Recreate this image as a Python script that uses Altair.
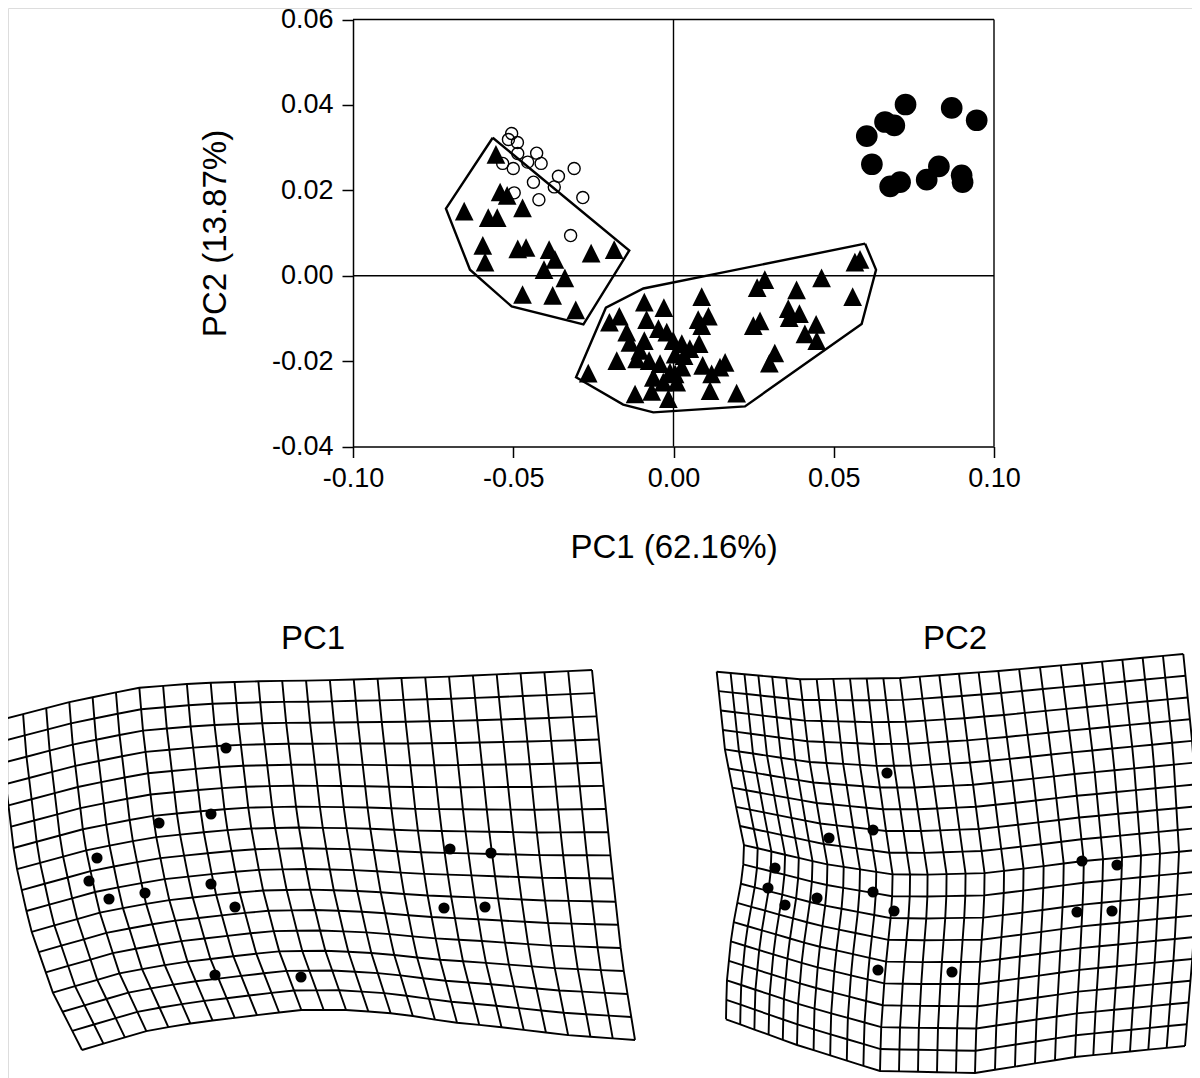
import altair as alt
import pandas as pd
import numpy as np

# ---------------- PCA scatter data ----------------
tri_x = [-0.0554, -0.0541, -0.0519, -0.0653, -0.0578, -0.0550, -0.0471, -0.0595, -0.0588, -0.0486,
         -0.0460, -0.0388, -0.0370, -0.0404, -0.0339, -0.0257, -0.0185, -0.0471, -0.0377, -0.0305,
         0.0285, 0.0261, 0.0462, 0.0582, 0.0566, 0.0559, 0.0384, 0.0358, 0.0393, 0.0361,
         0.0270, 0.0249, 0.0445, 0.0410, 0.0447, 0.0316, 0.0299,
         0.0088, 0.0109, 0.0077, 0.0088, 0.0080, 0.0051, 0.0091, 0.0161, 0.0145, 0.0119, 0.0114, 0.0197,
         -0.0091, -0.0030, -0.0200, -0.0169, -0.0084, -0.0146, -0.0136, -0.0091, -0.0047, -0.0021,
         -0.0001, 0.0026, -0.0105, -0.0177, -0.0115, -0.0076, -0.0042, 0.0005, 0.0033, 0.0026,
         -0.0011, -0.0063, 0.0010, -0.0032, -0.0068, -0.0120, -0.0016, -0.0266, 0.0005]
tri_y = [0.0284, 0.0196, 0.0188, 0.0151, 0.0136, 0.0136, 0.0159, 0.0071, 0.0032, 0.0063,
         0.0066, 0.0061, 0.0038, 0.0014, -0.0005, 0.0053, 0.0061, -0.0044, -0.0046, -0.0080,
         -0.0009, -0.0028, -0.0005, 0.0038, 0.0032, -0.0049, -0.0033, -0.0077, -0.0089, -0.0098,
         -0.0106, -0.0117, -0.0114, -0.0136, -0.0152, -0.0181, -0.0205,
         -0.0049, -0.0095, -0.0103, -0.0117, -0.0159, -0.0171, -0.0210, -0.0203, -0.0214, -0.0230, -0.0269, -0.0275,
         -0.0062, -0.0075, -0.0109, -0.0095, -0.0103, -0.0132, -0.0156, -0.0152, -0.0124, -0.0132,
         -0.0152, -0.0159, -0.0175, -0.0199, -0.0195, -0.0199, -0.0206, -0.0184, -0.0187, -0.0214,
         -0.0226, -0.0238, -0.0249, -0.0249, -0.0271, -0.0277, -0.0288, -0.0228, -0.0230]

open_x = [-0.0505, -0.0515, -0.0487, -0.0486, -0.0427, -0.0455, -0.0413, -0.0533, -0.0500,
          -0.0310, -0.0359, -0.0437, -0.0372, -0.0497, -0.0420, -0.0283, -0.0321]
open_y = [0.0333, 0.0319, 0.0312, 0.0286, 0.0287, 0.0266, 0.0263, 0.0263, 0.0251,
          0.0251, 0.0233, 0.0219, 0.0208, 0.0194, 0.0178, 0.0183, 0.0094]

fill_x = [0.0724, 0.0660, 0.0689, 0.0603, 0.0868, 0.0946, 0.0619, 0.0676, 0.0707,
          0.0790, 0.0828, 0.0899, 0.0902]
fill_y = [0.0401, 0.0360, 0.0352, 0.0327, 0.0393, 0.0364, 0.0261, 0.0209, 0.0219,
          0.0225, 0.0256, 0.0235, 0.0219]

hull1_x = [-0.0564, -0.0138, -0.0281, -0.0505, -0.0635, -0.0710]
hull1_y = [0.0323, 0.0059, -0.0114, -0.0072, 0.0014, 0.0157]
hull2_x = [0.0598, 0.0632, 0.0587, 0.0223, -0.0063, -0.0157, -0.0304, -0.0211, -0.0094]
hull2_y = [0.0075, 0.0014, -0.0113, -0.0306, -0.0320, -0.0302, -0.0238, -0.0075, -0.0030]

x_ticks = [-0.10, -0.05, 0.00, 0.05, 0.10]
y_ticks = [-0.04, -0.02, 0.00, 0.02, 0.04, 0.06]

# ---------------- deformation grids (outline points, landmarks) ----------------
pc1_top = [(0, 720), (70, 702), (137, 688), (200, 683), (269, 681), (318, 680.5), (447, 676.7), (592, 670)]
pc1_right = [(592, 670), (601, 760), (611, 860), (622, 960), (635, 1040)]
pc1_bottom = [(82, 1050), (150, 1030), (200, 1022), (250, 1016), (300, 1010), (350, 1010),
              (400, 1014), (450, 1022), (500, 1027), (567, 1035), (635, 1040)]
pc1_left = [(0, 720), (3, 760), (7, 793), (15, 860), (30, 927), (53, 993), (82, 1050)]
pc1_cols, pc1_rows = 26, 17
pc1_lean = 2.0   # vertical lines stay upright in the upper part and lean in the lower part
pc1_lm_x = [226, 211, 159, 97, 89, 109, 145, 211, 235, 215, 301, 450, 491, 444, 485]
pc1_lm_y = [748, 814, 823, 858, 881, 899, 893, 884, 907, 975, 977, 849, 853, 908, 907]

pc2_top = [(716.7, 671.7), (800, 679.3), (900, 678), (998.3, 671), (1081.7, 663.5), (1183.3, 654)]
pc2_top_t = [0, 6 / 26, 12 / 26, 17 / 26, 21 / 26, 1]
pc2_bottom = [(726, 1019.3), (797, 1045), (880, 1071), (975, 1073), (1075, 1057), (1185, 1046)]
pc2_bottom_t = [0, 5 / 26, 10 / 26, 15 / 26, 20 / 26, 1]
pc2_left = [(716.7, 671.7), (725, 750), (736.7, 810), (745, 850), (741, 883), (731.7, 933), (726.7, 983), (726, 1019.3)]
pc2_right = [(1183.3, 654), (1193, 750), (1198, 850), (1193, 950), (1185, 1046)]
pc2_cols, pc2_rows = 27, 19
pc2_lean = 1.0
pc2_lm_x = [887, 873, 829, 775, 768, 785, 817, 873, 894, 878, 952, 1082, 1117, 1077, 1112]
pc2_lm_y = [773, 830, 838, 868, 888, 905, 898, 892, 911, 970, 972, 861, 865, 912, 911]

panel_titles = ["PC1", "PC2"]
panel_title_x = [313, 955]
panel_title_y = [649, 649]


def resample(pts, n, ts=None):
    p = np.array(pts, float)
    if ts is None:
        d = np.r_[0, np.cumsum(np.hypot(*np.diff(p, axis=0).T))]
        ts = d / d[-1]
    t = np.linspace(0, 1, n)
    return np.c_[np.interp(t, ts, p[:, 0]), np.interp(t, ts, p[:, 1])]


def coons_lines(name, top, bottom, left, right, ncols, nrows, lean, top_t=None, bottom_t=None):
    T = resample(top, ncols, top_t)
    B = resample(bottom, ncols, bottom_t)
    L = resample(left, nrows)
    R = resample(right, nrows)
    u = np.linspace(0, 1, ncols)[None, :, None]
    v = np.linspace(0, 1, nrows)[:, None, None]
    # blending in v: x-coordinate uses a curved blend, y-coordinate a linear one
    fv = np.concatenate([v ** lean, v], axis=2)
    P = ((1 - fv) * T[None] + fv * B[None] + (1 - u) * L[:, None] + u * R[:, None]
         - ((1 - u) * (1 - fv) * T[0] + u * (1 - fv) * T[-1] + (1 - u) * fv * B[0] + u * fv * B[-1]))
    # keep the left/right edges exact
    P[:, 0] = L
    P[:, -1] = R
    rows = []
    for i in range(nrows):
        for j in range(ncols):
            rows.append({"px": P[i, j, 0], "py": P[i, j, 1], "line": f"{name}_h{i}", "ord": j})
    for j in range(ncols):
        for i in range(nrows):
            rows.append({"px": P[i, j, 0], "py": P[i, j, 1], "line": f"{name}_v{j}", "ord": i})
    return rows


grid_df = pd.DataFrame(
    coons_lines("pc1", pc1_top, pc1_bottom, pc1_left, pc1_right, pc1_cols, pc1_rows, pc1_lean)
    + coons_lines("pc2", pc2_top, pc2_bottom, pc2_left, pc2_right, pc2_cols, pc2_rows, pc2_lean,
                  pc2_top_t, pc2_bottom_t)
)
lm_df = pd.DataFrame({"px": pc1_lm_x + pc2_lm_x, "py": pc1_lm_y + pc2_lm_y})
title_df = pd.DataFrame({"px": panel_title_x, "py": panel_title_y, "label": panel_titles})

tri_df = pd.DataFrame({"x": tri_x, "y": tri_y})
open_df = pd.DataFrame({"x": open_x, "y": open_y})
fill_df = pd.DataFrame({"x": fill_x, "y": fill_y})
hull_rows = []
for name, hx, hy in [("h1", hull1_x, hull1_y), ("h2", hull2_x, hull2_y)]:
    for k, (a, b) in enumerate(zip(hx + hx[:1], hy + hy[:1])):
        hull_rows.append({"x": a, "y": b, "hull": name, "ord": k})
hull_df = pd.DataFrame(hull_rows)

W, H = 1184, 1070
FONT = "Liberation Sans"

XS = alt.Scale(domain=[-0.1, 0.1], range=[345, 986], nice=False, zero=False)
YS = alt.Scale(domain=[-0.04, 0.06], range=[438.5, 11.5], nice=False, zero=False)
PXS = alt.Scale(domain=[8, 8 + W], range=[0, W], nice=False, zero=False)
PYS = alt.Scale(domain=[8, 8 + H], range=[0, H], nice=False, zero=False)

label_expr = "datum.value < 0 ? '-' + format(abs(datum.value), '.2f') : format(datum.value, '.2f')"
common_axis = dict(labelExpr=label_expr, tickColor="black", tickWidth=1.5, tickSize=11,
                   domainColor="black", domainWidth=1.5, labelFont=FONT, labelFontSize=27,
                   labelColor="black", titleFont=FONT, titleFontSize=33, titleFontWeight="normal",
                   titleColor="black", grid=False, labelFlush=False, labelOverlap=False)
x_axis = alt.Axis(values=x_ticks, offset=438.5 - H, labelPadding=8, title="PC1 (62.16%)",
                  titlePadding=40, **common_axis)
y_axis = alt.Axis(values=y_ticks, offset=-345, labelPadding=9, title="PC2 (13.87%)",
                  titlePadding=39, **common_axis)

X = alt.X("x:Q", scale=XS, axis=x_axis)
Y = alt.Y("y:Q", scale=YS, axis=y_axis)

frame_df = pd.DataFrame({"x": [0.1, -0.1, 0.0, -0.1], "x2": [0.1, 0.1, 0.0, 0.1],
                         "y": [-0.04, 0.06, -0.04, 0.0], "y2": [0.06, 0.06, 0.06, 0.0]})
frame = alt.Chart(frame_df).mark_rule(color="black", strokeWidth=1.4).encode(
    x=X, x2="x2:Q", y=Y, y2="y2:Q")

hulls = alt.Chart(hull_df).mark_line(color="black", strokeWidth=2.4, strokeJoin="miter").encode(
    x=X, y=Y, detail="hull:N", order="ord:Q")

tris = alt.Chart(tri_df).mark_point(shape="M0,-1L1,1L-1,1Z", filled=True, size=350,
                                    color="black", opacity=1).encode(x=X, y=Y)
opens = alt.Chart(open_df).mark_point(shape="circle", filled=False, size=145, color="black",
                                      strokeWidth=1.4, opacity=1).encode(x=X, y=Y)
fills = alt.Chart(fill_df).mark_point(shape="circle", filled=True, size=470, color="black",
                                      opacity=1).encode(x=X, y=Y)

top = alt.layer(frame, hulls, tris, opens, fills)

PX = alt.X("px:Q", scale=PXS, axis=None)
PY = alt.Y("py:Q", scale=PYS, axis=None)
grid = alt.Chart(grid_df).mark_line(color="black", strokeWidth=1.9).encode(
    x=PX, y=PY, detail="line:N", order="ord:Q")
landmarks = alt.Chart(lm_df).mark_point(shape="circle", filled=True, size=125, color="black",
                                        opacity=1).encode(x=PX, y=PY)
titles = alt.Chart(title_df).mark_text(font=FONT, fontSize=33, baseline="alphabetic",
                                       align="center", color="black").encode(x=PX, y=PY, text="label:N")
bottom = alt.layer(grid, landmarks, titles)

chart = alt.layer(top, bottom).resolve_scale(x="independent", y="independent").properties(
    width=W, height=H, autosize=alt.AutoSizeParams(type="none"), padding=0
).configure_view(stroke=None).configure(background="white")

chart.save("out.html", embed_options={"renderer": "svg", "actions": False})
